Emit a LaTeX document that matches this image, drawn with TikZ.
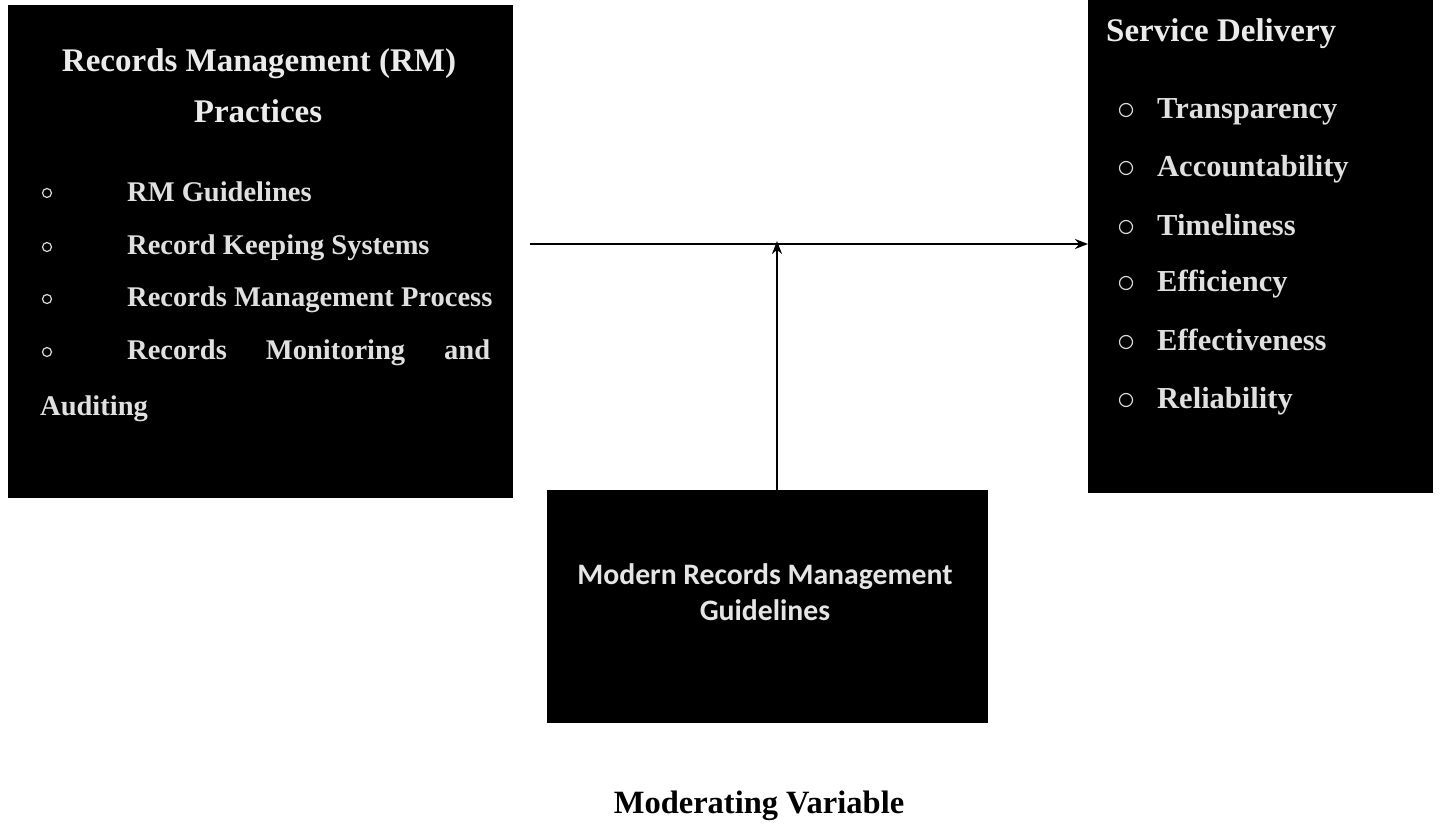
\documentclass[tikz,border=0pt]{standalone}
\usepackage{fontspec}
\setmainfont{Liberation Serif}
\newfontfamily\calib{Carlito}
\usetikzlibrary{arrows.meta}
\begin{document}
\begin{tikzpicture}[x=1pt,y=-1pt,
  box/.style={fill=black,draw=black,inner sep=0pt,anchor=north west},
  head/.style={text=white!92!black,font=\bfseries\fontsize{33}{33}\selectfont,inner sep=0pt},
  item/.style={text=white!88!black,font=\bfseries\fontsize{28.5}{28.5}\selectfont,inner sep=0pt,anchor=mid west},
  ritem/.style={item,font=\bfseries\fontsize{30.5}{30.5}\selectfont},
  dot/.style={circle,draw=white!85!black,line width=1.2pt,minimum size=13pt,inner sep=0pt},
  link/.style={line width=2.4pt,draw=black},
  arr/.style={link,-{Stealth[length=13pt,width=10pt]}}
]
\useasboundingbox (0,0) rectangle (1440,827);

% boxes
\node[box,minimum width=504pt,minimum height=492pt] (L) at (8,5) {};
\node[box,minimum width=344pt,minimum height=492pt] (R) at (1088,0) {};
\node[box,minimum width=440pt,minimum height=232pt] (B) at (547,490) {};

% left box text
\node[head,anchor=mid] (lh1) at (259,69) {Records Management (RM)};
\node[head,anchor=mid] (lh2) at (258,120) {Practices};
\node[dot,minimum size=9pt] (ld1) at (47,193) {};
\node[item] (lt1) at (127,199) {RM Guidelines};
\node[dot,minimum size=9pt] (ld2) at (47,247) {};
\node[item] (lt2) at (127,252) {Record Keeping Systems};
\node[dot,minimum size=9pt] (ld3) at (47,299) {};
\node[item] (lt3) at (127,304) {Records Management Process};
\node[dot,minimum size=9pt] (ld4) at (47,352) {};
\node[item,text width=363pt] (lt4) at (127,357) {Records\hfill Monitoring\hfill and};
\node[item] (lt5) at (40,413) {Auditing};

% right box text
\node[head,anchor=mid west] (rh) at (1106,39) {Service Delivery};
\node[dot] (rd1) at (1126,110) {};
\node[ritem] (rt1) at (1157,116) {Transparency};
\node[dot] (rd2) at (1126,168) {};
\node[ritem] (rt2) at (1157,174) {Accountability};
\node[dot] (rd3) at (1126,227) {};
\node[ritem] (rt3) at (1157,233) {Timeliness};
\node[dot] (rd4) at (1126,283) {};
\node[ritem] (rt4) at (1157,289) {Efficiency};
\node[dot] (rd5) at (1126,342) {};
\node[ritem] (rt5) at (1157,348) {Effectiveness};
\node[dot] (rd6) at (1126,400) {};
\node[ritem] (rt6) at (1157,406) {Reliability};

% bottom box text
\node[text=white!90!black,font=\calib\bfseries\fontsize{29.7}{29.7}\selectfont,inner sep=0pt,anchor=mid] (bt1) at (765,582) {Modern Records Management};
\node[text=white!90!black,font=\calib\bfseries\fontsize{29.7}{29.7}\selectfont,inner sep=0pt,anchor=mid] (bt2) at (765,618) {Guidelines};

% caption
\node[font=\bfseries\fontsize{32.5}{32.5}\selectfont,inner sep=0pt,anchor=mid] (cap) at (759,811) {Moderating Variable};

% connectors
\coordinate (J) at (777,244);
\coordinate (S) at (530,244);
\draw[arr] (S) -- (R.west |- S);
\draw[arr] (B.north -| J) -- ([yshift=3pt]J);
\end{tikzpicture}
\end{document}
